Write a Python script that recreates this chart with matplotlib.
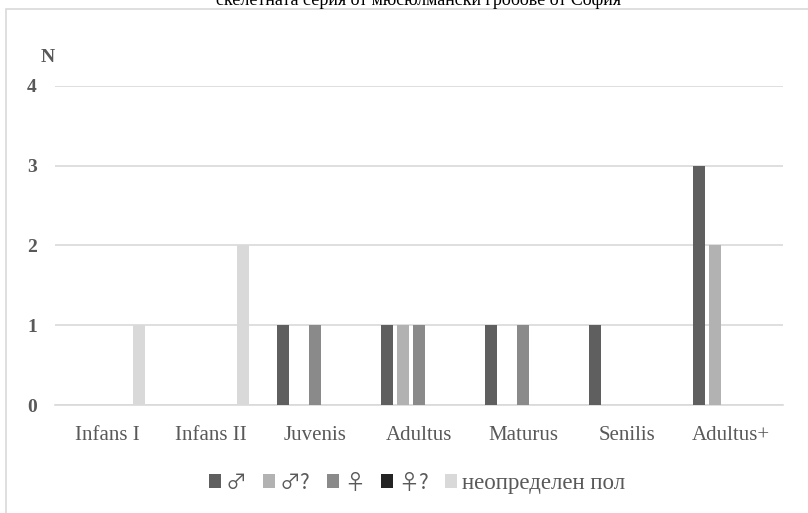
import numpy as np
import matplotlib.pyplot as plt
from matplotlib.patches import Rectangle

plt.rcParams['font.family'] = ['Liberation Serif', 'DejaVu Serif']

categories = ['Infans I', 'Infans II', 'Juvenis', 'Adultus', 'Maturus', 'Senilis', 'Adultus+']
series_names = ['♂', '♂?', '♀', '♀?', 'неопределен пол']
male = [0, 0, 1, 1, 1, 1, 3]
male_q = [0, 0, 0, 1, 0, 0, 2]
female = [0, 0, 1, 1, 1, 0, 0]
female_q = [0, 0, 0, 0, 0, 0, 0]
undet = [1, 2, 0, 0, 0, 0, 0]
colors = ['#5f5f5f', '#b2b2b2', '#8a8a8a', '#242424', '#d9d9d9']
title = 'скелетната серия от мюсюлмански гробове от София'

fig = plt.figure(figsize=(8.08, 5.13), dpi=100)
ax = fig.add_axes([0.068, 0.2105, 0.901, 0.622])

x = np.arange(len(categories))
w = 0.115
step = 0.154
for i, (vals, name, c) in enumerate(zip([male, male_q, female, female_q, undet], series_names, colors)):
    ax.bar(x + (i - 2) * step, vals, width=w, color=c, label=name, zorder=3)

ax.set_xlim(-0.5, len(categories) - 0.5)
ax.set_ylim(0, 4)
ax.set_yticks([0, 1, 2, 3, 4])
ax.set_xticks(x)
ax.set_xticklabels(categories, fontsize=15, color='#595959')
for t in ax.get_yticklabels():
    t.set_fontweight('bold')
    t.set_fontsize(14)
    t.set_color('#595959')
ax.tick_params(axis='both', length=0)
ax.tick_params(axis='y', pad=13)
ax.tick_params(axis='x', pad=15)
ax.grid(axis='y', color='#d9d9d9', linewidth=1.2, zorder=0)
for s in ['top', 'right', 'left']:
    ax.spines[s].set_visible(False)
ax.spines['bottom'].set_color('#d9d9d9')
ax.spines['bottom'].set_linewidth(1.2)

fig.text(48 / 808, 1 - 57 / 513, 'N', fontsize=14, fontweight='bold', color='#595959',
         ha='center', va='center')

leg = ax.legend(loc='center', bbox_to_anchor=(0.497, -0.245), ncol=5, frameon=False,
                handlelength=0.55, handleheight=0.55, handletextpad=0.2,
                columnspacing=0.7, fontsize=16.5, labelcolor='#595959')
for t in leg.get_texts()[:4]:
    t.set_family(['Noto Sans CJK SC', 'Liberation Serif'])
    t.set_fontsize(15)

fig.patches.append(Rectangle((6 / 808, -0.1), 1.2, 1 - 9 / 513 + 0.1, transform=fig.transFigure,
                             fill=False, edgecolor='#d9d9d9', linewidth=1.2))
fig.text(0.518, 1 - 5 / 513, title, fontsize=13, ha='center', va='baseline', color='#000000')

fig.savefig('out.png', dpi=100)
